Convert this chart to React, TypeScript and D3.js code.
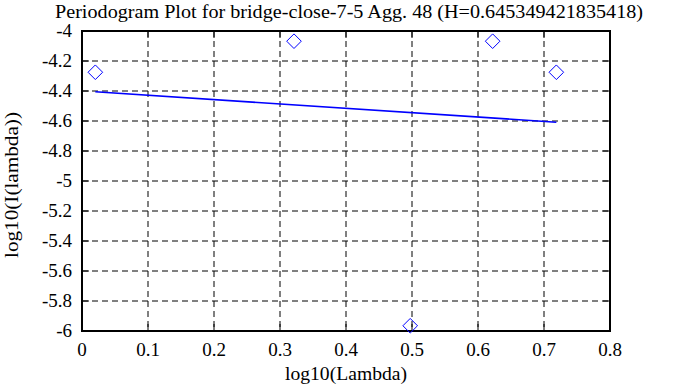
import React from "react";
import * as d3 from "d3";

const pointX = [0.0202, 0.3212, 0.4973, 0.6222, 0.7187];
const pointY = [-4.275, -4.068, -5.965, -4.068, -4.275];
const fitX = [0.0202, 0.7187];
const fitY = [-4.405, -4.608];
const xTicks = [0, 0.1, 0.2, 0.3, 0.4, 0.5, 0.6, 0.7, 0.8];
const yTicks = [-4, -4.2, -4.4, -4.6, -4.8, -5, -5.2, -5.4, -5.6, -5.8, -6];
const title = "Periodogram Plot for bridge-close-7-5 Agg. 48 (H=0.645349421835418)";
const xLabel = "log10(Lambda)";
const yLabel = "log10(I(lambda))";

const FONT = "Liberation Serif, Times New Roman, Times, serif";

export default function App() {
  const W = 688, H = 387;
  const left = 82, right = 610, top = 31, bottom = 331;
  const x = d3.scaleLinear().domain([0, 0.8]).range([left, right]);
  const y = d3.scaleLinear().domain([-6, -4]).range([bottom, top]);
  const line = d3.line<number>().x((_, i) => x(fitX[i])).y((d) => y(d));
  const r = 7.3;
  const ts = { fontFamily: FONT, fontSize: "19px" };
  return (
    <svg width={W} height={H} style={{ position: "absolute", left: 0, top: 0 }}>
      <rect width={W} height={H} fill="white" />
      {xTicks.slice(1, -1).map((t) => (
        <line key={"gx" + t} x1={x(t)} x2={x(t)} y1={top} y2={bottom} stroke="black" strokeDasharray="6,4" strokeWidth={1} />
      ))}
      {yTicks.slice(1, -1).map((t) => (
        <line key={"gy" + t} x1={left} x2={right} y1={y(t)} y2={y(t)} stroke="black" strokeDasharray="6,4" strokeWidth={1} />
      ))}
      {xTicks.map((t) => (
        <g key={"tx" + t}>
          <line x1={x(t)} x2={x(t)} y1={bottom} y2={bottom - 7} stroke="black" strokeWidth={1} />
          <line x1={x(t)} x2={x(t)} y1={top} y2={top + 7} stroke="black" strokeWidth={1} />
          <text x={x(t)} y={356} textAnchor="middle" style={ts}>{String(t)}</text>
        </g>
      ))}
      {yTicks.map((t) => (
        <g key={"ty" + t}>
          <line x1={left} x2={left + 7} y1={y(t)} y2={y(t)} stroke="black" strokeWidth={1} />
          <line x1={right} x2={right - 7} y1={y(t)} y2={y(t)} stroke="black" strokeWidth={1} />
          <text x={72} y={y(t) + 6} textAnchor="end" style={ts}>{String(t)}</text>
        </g>
      ))}
      <rect x={left} y={top} width={right - left} height={bottom - top} fill="none" stroke="black" strokeWidth={2} />
      <path d={line(fitY) || ""} fill="none" stroke="blue" strokeWidth={1.6} />
      {pointX.map((px, i) => {
        const cx = x(px), cy = y(pointY[i]);
        return (
          <path key={"p" + i} d={`M${cx},${cy - r}L${cx + r},${cy}L${cx},${cy + r}L${cx - r},${cy}Z`} fill="none" stroke="blue" strokeWidth={1} />
        );
      })}
      <text x={349} y={18} textAnchor="middle" style={ts} textLength={588} lengthAdjust="spacingAndGlyphs">{title}</text>
      <text x={346} y={380} textAnchor="middle" style={ts} textLength={122} lengthAdjust="spacingAndGlyphs">{xLabel}</text>
      <text transform={`translate(18,${185}) rotate(-90)`} textAnchor="middle" style={ts} textLength={146} lengthAdjust="spacingAndGlyphs">{yLabel}</text>
    </svg>
  );
}
